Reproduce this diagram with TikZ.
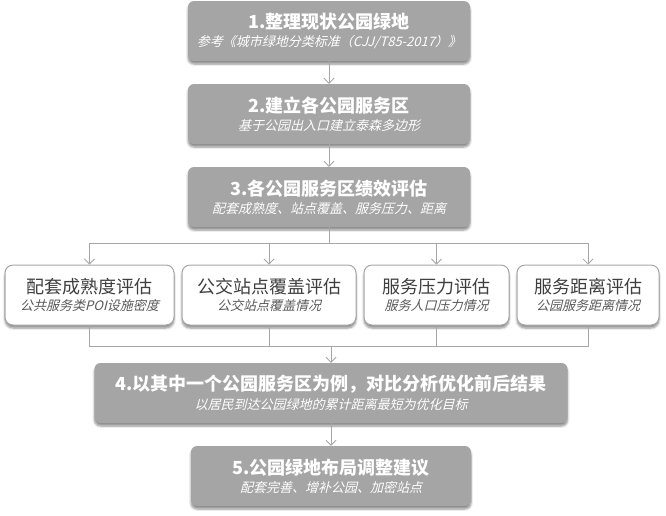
\documentclass[tikz,border=0pt]{standalone}
\usepackage{fontspec}
\setmainfont{Noto Sans CJK SC}
\newfontfamily\slantcjk{Noto Sans CJK SC}[FakeSlant=0.25]
\usetikzlibrary{shapes.geometric, arrows.meta, positioning, calc, shadows.blur}

\definecolor{boxgray}{HTML}{A5A5A5}
\definecolor{linegray}{HTML}{A6A6A6}
\definecolor{textdark}{HTML}{3F3F3F}
\definecolor{textsub}{HTML}{595959}

\newcommand{\steptext}[2]{{\fontsize{18}{22}\selectfont\bfseries #1}\\[4pt]{\fontsize{13}{15}\selectfont\slantcjk #2}}
\newcommand{\parttext}[2]{{\fontsize{18}{22}\selectfont #1}\\[4pt]{\fontsize{13}{15}\selectfont\slantcjk\color{textsub} #2}}

\begin{document}
\begin{tikzpicture}[x=1pt, y=-1pt, node distance=83pt, >={Straight Barb[length=5pt,width=10pt]},
    stepbox/.style={rectangle, rounded corners=6pt, fill=boxgray, text=white, align=center, minimum height=60pt,
        blur shadow={shadow xshift=0pt, shadow yshift=-3pt, shadow blur steps=6, shadow opacity=45}},
    partbox/.style={rectangle, rounded corners=8pt, draw=linegray, line width=1pt, fill=white, text=textdark, align=center, minimum height=60pt,
        blur shadow={shadow xshift=0pt, shadow yshift=-3pt, shadow blur steps=6, shadow opacity=45}},
    link/.style={draw=linegray, line width=0.8pt}]
    \useasboundingbox (0,0) rectangle (666,515);

    % Nodes
    \node (park1) [stepbox, minimum width=282pt] at (329,31) {\steptext{1.整理现状公园绿地}{参考《城市绿地分类标准（CJJ/T85-2017）》}};
    \node (park2) [stepbox, minimum width=282pt, below of=park1] {\steptext{2.建立各公园服务区}{基于公园出入口建立泰森多边形}};
    \node (park3) [stepbox, minimum width=282pt, below of=park2] {\steptext{3.各公园服务区绩效评估}{配套成熟度、站点覆盖、服务压力、距离}};

    \node (lvA) [partbox, minimum width=169pt] at (89.5,295) {\parttext{配套成熟度评估}{公共服务类POI设施密度}};
    \node (lvB) [partbox, minimum width=174pt, right=7pt of lvA] {\parttext{公交站点覆盖评估}{公交站点覆盖情况}};
    \node (lvC) [partbox, minimum width=145pt, right=7pt of lvB] {\parttext{服务压力评估}{服务人口压力情况}};
    \node (lvD) [partbox, minimum width=142pt, right=7pt of lvC] {\parttext{服务距离评估}{公园服务距离情况}};

    \node (park4) [stepbox, minimum width=473pt] at (331,393) {\steptext{4.以其中一个公园服务区为例，对比分析优化前后结果}{以居民到达公园绿地的累计距离最短为优化目标}};
    \node (park5) [stepbox, minimum width=280pt, below of=park4] {\steptext{5.公园绿地布局调整建议}{配套完善、增补公园、加密站点}};

    % Arrows
    \draw[link, ->] (park1) -- (park2);
    \draw[link, ->] (park2) -- (park3);
    \coordinate (fork) at ($(park3.south)+(0,16)$);
    \foreach \part in {lvA, lvB, lvC, lvD}
        \draw[link, ->] (park3.south) -- (fork) -| (\part.north);
    \coordinate (join) at ($(park4.north)+(0,-16)$);
    \foreach \part in {lvA, lvB, lvC, lvD}
        \draw[link] (\part.south) |- (join);
    \draw[link, ->] (join) -- (park4);
    \draw[link, ->] (park4) -- (park5);
\end{tikzpicture}
\end{document}
